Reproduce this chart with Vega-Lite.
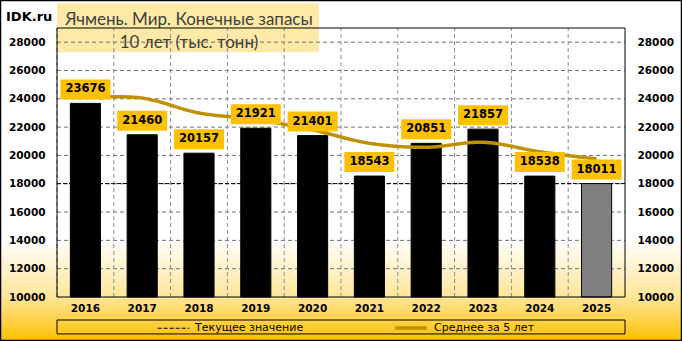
{
  "$schema": "https://vega.github.io/schema/vega-lite/v6.json",
  "width": 682,
  "height": 341,
  "autosize": {"type": "none"},
  "padding": 0,
  "background": "#ffffff",
  "title": {
    "text": "Ячмень. Мир. Конечные запасы",
    "subtitle": "10 лет (тыс. тонн)",
    "orient": "top",
    "anchor": "start",
    "frame": "group",
    "align": "center",
    "dx": 189,
    "offset": -52,
    "font": "Lato",
    "fontSize": 17,
    "fontWeight": "normal",
    "color": "#404040",
    "subtitleFont": "Lato",
    "subtitleFontSize": 17,
    "subtitleColor": "#404040",
    "subtitlePadding": 6
  },
  "config": {
    "view": {
      "fill": {
        "gradient": "linear", "x1": 0, "y1": 0, "x2": 0, "y2": 1,
        "stops": [
          {"offset": 0, "color": "#ffffff"},
          {"offset": 0.7, "color": "#ffffff"},
          {"offset": 0.87, "color": "#FFE699"},
          {"offset": 1, "color": "#FFC000"}
        ]
      },
      "stroke": "#000000",
      "strokeWidth": 2.5
    },
    "legend": {
      "orient": "none",
      "legendX": 157,
      "legendY": 310,
      "direction": "horizontal",
      "title": null,
      "symbolType": "stroke",
      "symbolSize": 1000,
      "labelFont": "DejaVu Sans",
      "labelFontSize": 11,
      "labelColor": "#000000",
      "columnPadding": 84,
      "labelOffset": 5,
      "padding": 0
    }
  },
  "datasets": {
    "barley": [
      {"year": "2016", "value": 23676, "avg": 24100},
      {"year": "2017", "value": 21460, "avg": 24050},
      {"year": "2018", "value": 20157, "avg": 23000},
      {"year": "2019", "value": 21921, "avg": 22540},
      {"year": "2020", "value": 21401, "avg": 21800},
      {"year": "2021", "value": 18543, "avg": 20860},
      {"year": "2022", "value": 20851, "avg": 20575},
      {"year": "2023", "value": 21857, "avg": 20930},
      {"year": "2024", "value": 18538, "avg": 20260},
      {"year": "2025", "value": 18011, "avg": 19745}
    ],
    "current": [{"series": "Текущее значение", "value": 18011}],
    "gridlines": [
      {"g": 12000}, {"g": 14000}, {"g": 16000}, {"g": 18000}, {"g": 20000},
      {"g": 22000}, {"g": 24000}, {"g": 26000}, {"g": 28000}
    ],
    "decor": [{"k": "d"}]
  },
  "resolve": {
    "axis": {"x": "independent", "y": "independent"}
  },
  "layer": [
    {
      "data": {"name": "decor"},
      "mark": {"type": "rect", "fill": "#FFE9A6"},
      "encoding": {
        "x": {"datum": "2016", "type": "ordinal", "bandPosition": 0, "scale": {"type": "band", "domain": ["2016","2017","2018","2019","2020","2021","2022","2023","2024","2025"], "range": [57, 625], "paddingInner": 0, "paddingOuter": 0}, "axis": null},
        "x2": {"datum": "2020", "bandPosition": 0.61},
        "y": {"datum": 30740, "type": "quantitative", "scale": {"domain": [10000, 29000], "range": [297, 28], "nice": false, "zero": false}, "axis": null},
        "y2": {"datum": 27290}
      }
    },
    {
      "data": {"name": "gridlines"},
      "mark": {"type": "rule", "stroke": "#707070", "strokeWidth": 1, "strokeDash": [4, 3]},
      "encoding": {
        "x": {"datum": "2016", "type": "ordinal", "bandPosition": 0, "axis": null},
        "x2": {"datum": "2025", "bandPosition": 1},
        "y": {"field": "g", "type": "quantitative", "axis": null}
      }
    },
    {
      "data": {"name": "barley"},
      "mark": {"type": "rule", "color": "#8c8c8c", "strokeWidth": 1, "strokeDash": [4, 3]},
      "encoding": {
        "x": {"field": "year", "type": "ordinal", "bandPosition": 0, "axis": null},
        "y": {"datum": 10000, "type": "quantitative", "axis": null},
        "y2": {"datum": 29000}
      }
    },
    {
      "data": {"name": "decor"},
      "mark": {"type": "text", "text": "IDK.ru", "align": "left", "baseline": "middle", "dx": -51, "font": "DejaVu Sans", "fontWeight": "bold", "fontSize": 13, "color": "#000000"},
      "encoding": {
        "x": {"datum": "2016", "type": "ordinal", "bandPosition": 0, "axis": null},
        "y": {"datum": 29776, "type": "quantitative", "axis": null}
      }
    },
    {
      "data": {"name": "decor"},
      "mark": {"type": "rect", "fill": "transparent", "stroke": "#000000", "strokeWidth": 1},
      "encoding": {
        "x": {"datum": "2016", "type": "ordinal", "bandPosition": 0, "axis": null},
        "x2": {"datum": "2025", "bandPosition": 1},
        "y": {"datum": 8375, "type": "quantitative", "axis": null},
        "y2": {"datum": 7390}
      }
    },
    {
      "data": {"name": "current"},
      "mark": {"type": "rule"},
      "encoding": {
        "x": {"datum": "2016", "type": "ordinal", "bandPosition": 0, "axis": null},
        "x2": {"datum": "2025", "bandPosition": 1},
        "y": {"field": "value", "type": "quantitative", "axis": null},
        "color": {"field": "series", "type": "nominal"},
        "strokeDash": {"field": "series", "type": "nominal"},
        "strokeWidth": {"field": "series", "type": "nominal"}
      }
    },
    {
      "data": {"name": "barley"},
      "mark": {"type": "bar", "width": {"band": 0.53}, "stroke": "#000000", "strokeWidth": 1},
      "encoding": {
        "x": {
          "field": "year",
          "type": "ordinal",
          "axis": {
            "orient": "bottom",
            "offset": -44,
            "title": null,
            "ticks": false,
            "domain": false,
            "grid": false,
            "labelAngle": 0,
            "labelOverlap": false,
            "labelFont": "DejaVu Sans",
            "labelFontWeight": "bold",
            "labelFontSize": 10.5,
            "labelColor": "#000000",
            "labelPadding": 6
          }
        },
        "y": {
          "field": "value",
          "type": "quantitative",
          "axis": {
            "orient": "left",
            "offset": -57,
            "title": null,
            "values": [10000, 12000, 14000, 16000, 18000, 20000, 22000, 24000, 26000, 28000],
            "format": "d",
            "ticks": false,
            "domain": false,
            "grid": false,
            "labelOverlap": false,
            "labelFont": "DejaVu Sans",
            "labelFontWeight": "bold",
            "labelFontSize": 10.5,
            "labelColor": "#000000",
            "labelPadding": 12
          }
        },
        "y2": {"datum": 10000},
        "fill": {"condition": {"test": "datum.year === '2025'", "value": "#808080"}, "value": "#000000"}
      }
    },
    {
      "data": {"name": "barley"},
      "mark": {"type": "line", "interpolate": "catmull-rom"},
      "encoding": {
        "x": {"field": "year", "type": "ordinal", "axis": null},
        "y": {"field": "avg", "type": "quantitative", "axis": null},
        "color": {"datum": "Среднее за 5 лет", "type": "nominal", "scale": {"domain": ["Текущее значение", "Среднее за 5 лет"], "range": ["#000000", "#BF9000"]}},
        "strokeDash": {"datum": "Среднее за 5 лет", "type": "nominal", "scale": {"domain": ["Текущее значение", "Среднее за 5 лет"], "range": [[4, 2], [1, 0]]}},
        "strokeWidth": {"datum": "Среднее за 5 лет", "type": "nominal", "scale": {"domain": ["Текущее значение", "Среднее за 5 лет"], "range": [1, 3.5]}}
      }
    },
    {
      "data": {"name": "barley"},
      "mark": {"type": "bar", "width": {"band": 0.88}, "color": "#FFC000", "yOffset": -24, "y2Offset": -4},
      "encoding": {
        "x": {"field": "year", "type": "ordinal", "axis": null},
        "y": {"field": "value", "type": "quantitative", "axis": null},
        "y2": {"field": "value"}
      }
    },
    {
      "data": {"name": "barley"},
      "mark": {"type": "text", "dy": -14, "baseline": "middle", "align": "center", "font": "DejaVu Sans", "fontWeight": "bold", "fontSize": 11.5, "color": "#000000"},
      "encoding": {
        "x": {"field": "year", "type": "ordinal", "axis": null},
        "y": {"field": "value", "type": "quantitative", "axis": null},
        "text": {"field": "value", "type": "quantitative", "format": "d"}
      }
    },
    {
      "data": {"name": "decor"},
      "mark": {"type": "rect", "fill": "transparent", "stroke": "#000000", "strokeWidth": 1},
      "encoding": {
        "x": {"datum": "2016", "type": "ordinal", "bandPosition": 0, "axis": null},
        "x2": {"datum": "2025", "bandPosition": 1},
        "y": {
          "datum": 10000,
          "type": "quantitative",
          "axis": {
            "orient": "right",
            "offset": -57,
            "title": null,
            "values": [10000, 12000, 14000, 16000, 18000, 20000, 22000, 24000, 26000, 28000],
            "format": "d",
            "ticks": false,
            "domain": false,
            "grid": false,
            "labelOverlap": false,
            "labelFont": "DejaVu Sans",
            "labelFontWeight": "bold",
            "labelFontSize": 10.5,
            "labelColor": "#000000",
            "labelPadding": 12
          }
        },
        "y2": {"datum": 29000}
      }
    }
  ]
}
